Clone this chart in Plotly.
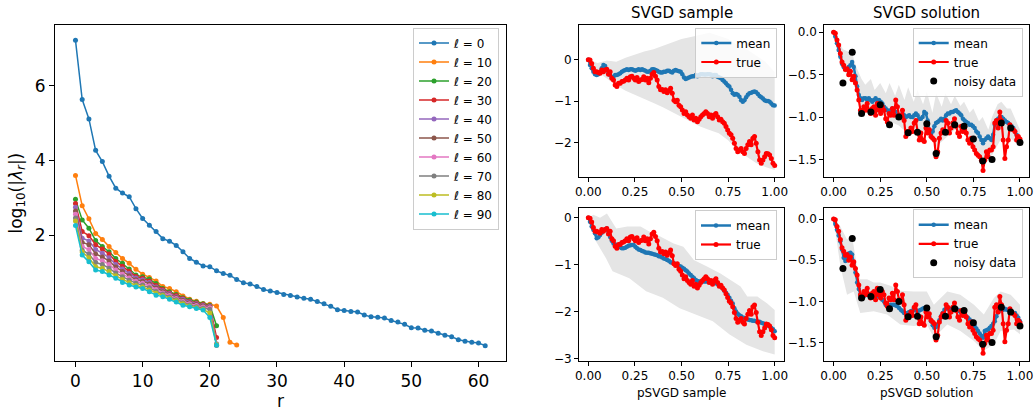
import numpy as np
import plotly.graph_objects as go

# ---------------- left panel data ----------------
r_l0 = list(range(62))
lam_l0 = [7.21, 5.63, 5.11, 4.27, 3.97, 3.58, 3.26, 3.13, 3.03, 2.71,
          2.45, 2.27, 2.10, 1.91, 1.84, 1.73, 1.56, 1.38, 1.28, 1.18,
          1.16, 1.05, 0.98, 0.93, 0.82, 0.73, 0.70, 0.63, 0.55, 0.51,
          0.47, 0.42, 0.39, 0.35, 0.32, 0.29, 0.23, 0.17, 0.10, 0.01,
          -0.01, -0.04, -0.05, -0.13, -0.18, -0.19, -0.21, -0.28, -0.32, -0.38,
          -0.47, -0.48, -0.54, -0.56, -0.62, -0.67, -0.71, -0.79, -0.83, -0.86,
          -0.88, -0.95]
r_l10 = list(range(25))
lam_l10 = [3.60, 2.79, 2.44, 2.05, 1.89, 1.70, 1.54, 1.38, 1.25, 1.09, 0.96, 0.87,
           0.78, 0.63, 0.58, 0.49, 0.38, 0.29, 0.24, 0.18, 0.16, 0.11, -0.20, -0.86, -0.93]
r_short = list(range(22))
lam_l20 = [2.96, 2.41, 2.19, 1.86, 1.70, 1.56, 1.38, 1.25, 1.10, 0.94, 0.89, 0.83,
           0.71, 0.58, 0.49, 0.42, 0.33, 0.27, 0.22, 0.17, 0.13, -0.42]
lam_l30 = [2.85, 2.10, 1.99, 1.75, 1.63, 1.50, 1.30, 1.17, 1.04, 0.90, 0.85, 0.78,
           0.66, 0.55, 0.46, 0.39, 0.31, 0.24, 0.19, 0.15, 0.11, -0.73]
lam_l40 = [2.75, 1.92, 1.85, 1.62, 1.52, 1.40, 1.22, 1.10, 0.98, 0.86, 0.81, 0.74,
           0.62, 0.52, 0.44, 0.36, 0.29, 0.22, 0.17, 0.13, 0.10, -0.90]
lam_l50 = [2.65, 1.81, 1.75, 1.50, 1.42, 1.31, 1.15, 1.03, 0.92, 0.81, 0.77, 0.70,
           0.59, 0.49, 0.41, 0.34, 0.26, 0.20, 0.15, 0.11, 0.08, -0.94]
lam_l60 = [2.56, 1.70, 1.62, 1.38, 1.32, 1.22, 1.07, 0.96, 0.86, 0.77, 0.72, 0.65,
           0.55, 0.46, 0.39, 0.31, 0.23, 0.17, 0.12, 0.08, 0.06, -0.92]
lam_l70 = [2.46, 1.60, 1.50, 1.27, 1.22, 1.12, 0.99, 0.89, 0.80, 0.72, 0.67, 0.60,
           0.50, 0.43, 0.35, 0.28, 0.20, 0.14, 0.09, 0.05, 0.02, -0.93]
lam_l80 = [2.38, 1.55, 1.40, 1.16, 1.12, 1.03, 0.92, 0.82, 0.73, 0.66, 0.62, 0.54,
           0.45, 0.39, 0.32, 0.25, 0.17, 0.11, 0.06, 0.02, -0.08, -0.92]
lam_l90 = [2.26, 1.47, 1.29, 1.07, 1.03, 0.94, 0.85, 0.74, 0.67, 0.62, 0.58, 0.49,
           0.40, 0.36, 0.29, 0.22, 0.13, 0.09, 0.04, 0.00, -0.20, -0.94]

left_series = [
    ("0", r_l0, lam_l0), ("10", r_l10, lam_l10), ("20", r_short, lam_l20),
    ("30", r_short, lam_l30), ("40", r_short, lam_l40), ("50", r_short, lam_l50),
    ("60", r_short, lam_l60), ("70", r_short, lam_l70), ("80", r_short, lam_l80),
    ("90", r_short, lam_l90),
]
tab10 = ["#1f77b4", "#ff7f0e", "#2ca02c", "#d62728", "#9467bd",
         "#8c564b", "#e377c2", "#7f7f7f", "#bcbd22", "#17becf"]

# ---------------- right panels data ----------------
sample_true = [0.0, -0.01, -0.09, -0.21, -0.29, -0.29, -0.31, -0.33, -0.25, -0.29,
               -0.25, -0.23, -0.35, -0.29, -0.45, -0.49, -0.61, -0.65, -0.57, -0.57,
               -0.53, -0.52, -0.49, -0.45, -0.49, -0.41, -0.40, -0.45, -0.49, -0.43,
               -0.53, -0.49, -0.48, -0.41, -0.49, -0.45, -0.56, -0.45, -0.35, -0.31,
               -0.40, -0.49, -0.65, -0.73, -0.72, -0.77, -0.73, -0.80, -0.75, -0.69,
               -0.81, -0.98, -1.02, -0.98, -1.10, -1.14, -1.22, -1.30, -1.26, -1.34,
               -1.38, -1.42, -1.34, -1.46, -1.42, -1.50, -1.44, -1.38, -1.34, -1.30,
               -1.26, -1.30, -1.38, -1.34, -1.42, -1.34, -1.30, -1.38, -1.46, -1.44,
               -1.50, -1.54, -1.62, -1.70, -1.78, -1.82, -1.90, -2.02, -2.15, -2.23,
               -2.19, -2.15, -2.23, -2.27, -2.15, -2.06, -1.98, -2.06, -1.90, -1.86,
               -2.02, -2.23, -2.43, -2.51, -2.43, -2.35, -2.27, -2.28, -2.31, -2.39,
               -2.51, -2.56]
svgd_sample_mean = [0.0, -0.13, -0.21, -0.29, -0.35, -0.37, -0.35, -0.29, -0.21, -0.13,
                    -0.15, -0.25, -0.33, -0.37, -0.43, -0.41, -0.37, -0.37, -0.35, -0.33,
                    -0.29, -0.27, -0.25, -0.23, -0.25, -0.23, -0.23, -0.25, -0.27, -0.25,
                    -0.23, -0.25, -0.23, -0.25, -0.27, -0.29, -0.29, -0.27, -0.23, -0.23,
                    -0.25, -0.27, -0.29, -0.31, -0.31, -0.29, -0.29, -0.27, -0.27, -0.29,
                    -0.31, -0.27, -0.25, -0.27, -0.28, -0.29, -0.35, -0.43, -0.47, -0.45,
                    -0.43, -0.41, -0.40, -0.40, -0.37, -0.40, -0.37, -0.35, -0.35, -0.36,
                    -0.36, -0.35, -0.35, -0.36, -0.40, -0.37, -0.37, -0.41, -0.43, -0.45,
                    -0.49, -0.53, -0.57, -0.62, -0.65, -0.73, -0.81, -0.85, -0.83, -0.85,
                    -0.90, -0.98, -1.02, -0.98, -0.91, -0.85, -0.81, -0.80, -0.78, -0.77,
                    -0.79, -0.83, -0.88, -0.91, -0.94, -0.98, -1.00, -1.00, -1.02, -1.06,
                    -1.10, -1.11]
psvgd_sample_mean = [0.0, -0.085, -0.19, -0.26, -0.33, -0.44, -0.42, -0.37, -0.32, -0.28,
                     -0.25, -0.23, -0.30, -0.41, -0.49, -0.55, -0.57, -0.58, -0.60, -0.63,
                     -0.65, -0.65, -0.64, -0.62, -0.60, -0.59, -0.58, -0.58, -0.62, -0.65,
                     -0.68, -0.69, -0.71, -0.72, -0.74, -0.75, -0.75, -0.76, -0.77, -0.78,
                     -0.79, -0.80, -0.82, -0.83, -0.85, -0.87, -0.88, -0.90, -0.92, -0.95,
                     -0.96, -0.97, -1.00, -1.02, -1.03, -1.04, -1.07, -1.09, -1.12, -1.15,
                     -1.19, -1.22, -1.26, -1.29, -1.33, -1.35, -1.36, -1.36, -1.36, -1.36,
                     -1.36, -1.36, -1.36, -1.37, -1.38, -1.39, -1.40, -1.42, -1.44, -1.47,
                     -1.51, -1.56, -1.60, -1.65, -1.71, -1.77, -1.83, -1.93, -2.00, -2.05,
                     -2.08, -2.10, -2.13, -2.14, -2.15, -2.17, -2.18, -2.19, -2.20, -2.20,
                     -2.21, -2.22, -2.22, -2.24, -2.25, -2.27, -2.28, -2.30, -2.32, -2.35,
                     -2.38, -2.42]
solution_true = [0.0, -0.01, -0.09, -0.15, -0.25, -0.35, -0.39, -0.44, -0.43, -0.50,
                 -0.46, -0.56, -0.52, -0.60, -0.68, -0.80, -0.92, -0.96, -0.88, -0.92,
                 -0.84, -0.92, -0.96, -0.90, -0.88, -0.98, -0.84, -0.92, -0.96, -0.88,
                 -0.92, -1.02, -1.06, -0.96, -0.98, -0.90, -0.98, -0.80, -0.88, -0.98,
                 -1.00, -0.92, -1.04, -1.23, -1.17, -1.19, -1.13, -1.17, -1.07, -1.04,
                 -1.17, -1.27, -1.19, -1.27, -1.29, -1.13, -1.19, -1.15, -1.23, -1.25,
                 -1.27, -1.47, -1.41, -1.25, -1.19, -1.15, -1.17, -1.04, -1.07, -1.19,
                 -1.13, -1.07, -1.02, -1.11, -1.19, -1.23, -1.11, -1.17, -1.15, -1.19,
                 -1.27, -1.31, -1.25, -1.35, -1.39, -1.43, -1.45, -1.47, -1.51, -1.63,
                 -1.51, -1.41, -1.47, -1.39, -1.39, -1.35, -1.07, -1.04, -1.13, -0.94,
                 -1.04, -1.27, -1.49, -1.35, -1.27, -1.09, -1.13, -1.15, -1.17, -1.27,
                 -1.23, -1.26]
svgd_solution_mean = [0.0, -0.05, -0.13, -0.21, -0.29, -0.37, -0.41, -0.43, -0.44, -0.41,
                      -0.39, -0.35, -0.41, -0.52, -0.64, -0.74, -0.78, -0.80, -0.78, -0.78,
                      -0.80, -0.78, -0.80, -0.82, -0.80, -0.78, -0.80, -0.80, -0.82, -0.84,
                      -0.88, -0.90, -0.92, -0.94, -0.92, -0.90, -0.92, -0.94, -0.98, -1.00,
                      -0.98, -0.96, -0.98, -1.00, -0.99, -0.98, -1.00, -1.00, -0.98, -0.96,
                      -0.98, -1.02, -1.02, -1.00, -0.94, -0.96, -1.04, -1.15, -1.21, -1.17,
                      -1.11, -1.07, -1.06, -1.04, -1.02, -1.04, -1.02, -0.98, -0.96, -0.96,
                      -0.94, -0.94, -0.93, -0.92, -0.94, -0.96, -0.98, -1.02, -1.04, -1.06,
                      -1.07, -1.09, -1.09, -1.11, -1.13, -1.17, -1.19, -1.23, -1.27, -1.31,
                      -1.27, -1.25, -1.23, -1.25, -1.27, -1.21, -1.09, -1.04, -1.02, -1.00,
                      -1.00, -1.02, -1.04, -1.06, -1.07, -1.09, -1.11, -1.13, -1.17, -1.21,
                      -1.25, -1.27]
psvgd_solution_mean = [0.0, -0.06, -0.13, -0.20, -0.27, -0.37, -0.47, -0.51, -0.45, -0.42,
                       -0.41, -0.43, -0.53, -0.65, -0.77, -0.85, -0.92, -0.94, -0.94, -0.92,
                       -0.90, -0.91, -0.92, -0.94, -0.96, -0.94, -0.92, -0.94, -0.96, -0.98,
                       -1.00, -1.04, -1.06, -1.05, -1.04, -1.04, -1.04, -1.05, -1.06, -1.08,
                       -1.10, -1.12, -1.14, -1.15, -1.14, -1.13, -1.12, -1.11, -1.10, -1.11,
                       -1.12, -1.11, -1.10, -1.09, -1.08, -1.10, -1.14, -1.19, -1.24, -1.29,
                       -1.32, -1.31, -1.28, -1.23, -1.18, -1.14, -1.10, -1.09, -1.08, -1.09,
                       -1.10, -1.09, -1.08, -1.09, -1.10, -1.12, -1.14, -1.15, -1.16, -1.18,
                       -1.20, -1.22, -1.24, -1.27, -1.30, -1.33, -1.36, -1.39, -1.42, -1.44,
                       -1.36, -1.35, -1.34, -1.32, -1.30, -1.27, -1.24, -1.18, -1.12, -1.11,
                       -1.10, -1.10, -1.09, -1.10, -1.10, -1.11, -1.12, -1.14, -1.14, -1.17,
                       -1.20, -1.24]

noisy_x = [0.05, 0.10, 0.15, 0.20, 0.25, 0.30, 0.35, 0.40, 0.45, 0.50,
           0.55, 0.60, 0.65, 0.70, 0.75, 0.80, 0.85, 0.90, 0.95, 1.00]
noisy_y = [-0.60, -0.236, -0.96, -0.94, -0.855, -1.09, -1.00, -1.185, -1.18, -1.08,
           -1.43, -1.18, -1.09, -1.11, -1.26, -1.52, -1.50, -1.07, -1.13, -1.30]

# credible bands (upper / lower edges)
band1_x = [0.0, 0.05, 0.1, 0.15, 0.2, 0.25, 0.3, 0.35, 0.4, 0.45, 0.5,
           0.55, 0.6, 0.65, 0.7, 0.75, 0.8, 0.85, 0.9, 0.95, 1.0]
band1_hi = [0.0, -0.08, -0.02, -0.05, 0.05, 0.12, 0.20, 0.25, 0.33, 0.42, 0.50,
            0.55, 0.60, 0.65, 0.58, 0.50, 0.35, 0.25, 0.10, -0.05, -0.30]
band1_lo = [0.0, -0.30, -0.45, -0.62, -0.75, -0.85, -0.95, -1.05, -1.15, -1.25, -1.38,
            -1.50, -1.62, -1.70, -1.78, -1.95, -2.20, -2.35, -2.50, -2.60, -2.67]

band2_x = [0.0, 0.05, 0.1, 0.12, 0.15, 0.17, 0.2, 0.22, 0.25, 0.28, 0.3, 0.33, 0.35,
           0.38, 0.4, 0.43, 0.45, 0.48, 0.5, 0.53, 0.55, 0.58, 0.6, 0.63, 0.65, 0.68,
           0.7, 0.73, 0.75, 0.78, 0.8, 0.83, 0.85, 0.88, 0.9, 0.93, 0.95, 0.98, 1.0]
band2_hi = [0.0, -0.20, -0.25, -0.40, -0.55, -0.62, -0.55, -0.68, -0.60, -0.72, -0.60,
            -0.75, -0.62, -0.80, -0.65, -0.82, -0.68, -0.85, -0.70, -0.95, -0.72, -0.88,
            -0.72, -0.85, -0.75, -0.87, -0.82, -0.95, -0.90, -1.05, -1.00, -1.15, -1.00,
            -0.85, -0.82, -0.90, -0.90, -1.05, -1.15]
band2_lo_x = [0.0, 0.05, 0.1, 0.15, 0.2, 0.25, 0.3, 0.35, 0.4, 0.45, 0.5,
              0.55, 0.6, 0.65, 0.7, 0.75, 0.8, 0.85, 0.9, 0.95, 1.0]
band2_lo = [0.0, -0.45, -0.55, -0.92, -0.98, -0.95, -1.05, -1.10, -1.20, -1.20, -1.15,
            -1.35, -1.25, -1.15, -1.15, -1.35, -1.52, -1.45, -1.25, -1.25, -1.35]

band3_hi_x = [0.0, 0.027, 0.063, 0.1, 0.15, 0.21, 0.28, 0.33, 0.386, 0.458, 0.51,
              0.566, 0.637, 0.709, 0.763, 0.817, 0.853, 0.907, 0.96, 1.0]
band3_hi = [0.0, 0.06, 0.0, 0.09, -0.23, -0.19, -0.19, -0.30, -0.40, -0.55, -0.62,
            -0.90, -1.04, -1.19, -1.33, -1.47, -1.68, -1.68, -1.83, -1.97]
band3_lo_x = [0.0, 0.04, 0.094, 0.13, 0.22, 0.31, 0.40, 0.49, 0.578, 0.668, 0.758,
              0.848, 0.937, 1.0]
band3_lo = [0.0, -0.50, -0.86, -1.14, -1.29, -1.57, -1.71, -1.93, -2.07, -2.21, -2.49,
            -2.71, -2.85, -2.92]

band4_hi_x = [0.0, 0.036, 0.072, 0.099, 0.125, 0.143, 0.18, 0.215, 0.25, 0.305, 0.358,
              0.43, 0.5, 0.538, 0.61, 0.68, 0.753, 0.806, 0.86, 0.896, 0.95, 1.0]
band4_hi = [0.0, -0.09, -0.25, -0.21, -0.57, -0.73, -0.73, -0.77, -0.77, -0.81, -0.87,
            -0.88, -0.88, -1.04, -0.88, -0.92, -1.04, -1.16, -0.96, -0.88, -0.92, -1.04]
band4_lo_x = [0.0, 0.036, 0.072, 0.108, 0.143, 0.215, 0.287, 0.358, 0.43, 0.5, 0.538,
              0.61, 0.68, 0.753, 0.806, 0.86, 0.896, 0.968, 1.0]
band4_lo = [0.0, -0.57, -0.92, -0.88, -1.14, -1.12, -1.16, -1.28, -1.30, -1.28, -1.44,
            -1.28, -1.36, -1.48, -1.60, -1.52, -1.36, -1.34, -1.40]

t_grid = np.linspace(0.0, 1.0, len(sample_true))

# ---------------- figure ----------------
W, H = 1034, 412
FONT = "DejaVu Sans"
fig = go.Figure()

for i, (lab, rr, vals) in enumerate(left_series):
    fig.add_trace(go.Scatter(
        x=rr, y=vals, mode="lines+markers", name="<i>ℓ</i> = " + lab,
        line=dict(color=tab10[i], width=1.5), marker=dict(color=tab10[i], size=5),
        xaxis="x", yaxis="y", legend="legend"))

GREY = "rgb(229,229,229)"
BLUE = "#1f77b4"
RED = "#ff0000"


def band(hx, hi, lx, lo, ax):
    fig.add_trace(go.Scatter(
        x=list(hx) + list(lx)[::-1], y=list(hi) + list(lo)[::-1], mode="lines",
        fill="toself", fillcolor=GREY, line=dict(width=0, color=GREY),
        showlegend=False, hoverinfo="skip", xaxis="x" + ax, yaxis="y" + ax))


def curves(mean, true, ax, leg, noisy=False):
    fig.add_trace(go.Scatter(
        x=t_grid, y=mean, mode="lines+markers", name="mean",
        line=dict(color=BLUE, width=2.5), marker=dict(color=BLUE, size=4.5),
        xaxis="x" + ax, yaxis="y" + ax, legend=leg))
    fig.add_trace(go.Scatter(
        x=t_grid, y=true, mode="lines+markers", name="true",
        line=dict(color=RED, width=2.2), marker=dict(color=RED, size=5),
        xaxis="x" + ax, yaxis="y" + ax, legend=leg))
    if noisy:
        fig.add_trace(go.Scatter(
            x=noisy_x, y=noisy_y, mode="markers", name="noisy data",
            marker=dict(color="black", size=7),
            xaxis="x" + ax, yaxis="y" + ax, legend=leg))


band(band1_x, band1_hi, band1_x, band1_lo, "2")
curves(svgd_sample_mean, sample_true, "2", "legend2")
band(band2_x, band2_hi, band2_lo_x, band2_lo, "3")
curves(svgd_solution_mean, solution_true, "3", "legend3", noisy=True)
band(band3_hi_x, band3_hi, band3_lo_x, band3_lo, "4")
curves(psvgd_sample_mean, sample_true, "4", "legend4")
band(band4_hi_x, band4_hi, band4_lo_x, band4_lo, "5")
curves(psvgd_solution_mean, solution_true, "5", "legend5", noisy=True)


def px_x(a, b):
    return [a / W, b / W]


def px_y(top, bot):
    return [1 - bot / H, 1 - top / H]


def axstyle(dom, rng, size, tlen, **kw):
    d = dict(domain=dom, range=rng, showline=True, mirror=True, linecolor="black",
             linewidth=1, ticks="outside", ticklen=tlen, tickwidth=1, tickcolor="black",
             showgrid=False, zeroline=False, automargin=False,
             tickfont=dict(family=FONT, size=size, color="black"))
    d.update(kw)
    return d


xr = [-0.05, 1.05]
xt = dict(tickvals=[0, 0.25, 0.5, 0.75, 1.0], tickformat=".2f")
fig.update_layout(
    width=W, height=H, margin=dict(l=0, r=0, t=0, b=0, autoexpand=False), autosize=False,
    paper_bgcolor="white", plot_bgcolor="white",
    font=dict(family=FONT, color="black"),
    xaxis=axstyle(px_x(55, 505.7), [-3.05, 64.05], 17, 5, tickvals=[0, 10, 20, 30, 40, 50, 60], anchor="y"),
    yaxis=axstyle(px_y(25, 361), [-1.36, 7.62], 17, 5, tickvals=[0, 2, 4, 6], anchor="x"),
    xaxis2=axstyle(px_x(579, 784), xr, 12, 4, anchor="y2", **xt),
    yaxis2=axstyle(px_y(25, 177), [-2.84, 0.84], 12, 4, tickvals=[0, -1, -2], anchor="x2"),
    xaxis3=axstyle(px_x(824.3, 1029.3), xr, 12, 4, anchor="y3", **xt),
    yaxis3=axstyle(px_y(25, 177), [-1.708, 0.086], 12, 4, tickvals=[0, -0.5, -1.0, -1.5],
                   tickformat=".1f", anchor="x3"),
    xaxis4=axstyle(px_x(579, 784), xr, 12, 4, anchor="y4", **xt),
    yaxis4=axstyle(px_y(208.3, 360.7), [-3.05, 0.2], 12, 4, tickvals=[0, -1, -2, -3], anchor="x4"),
    xaxis5=axstyle(px_x(824.3, 1029.3), xr, 12, 4, anchor="y5", **xt),
    yaxis5=axstyle(px_y(208.3, 360.7), [-1.72, 0.13], 12, 4, tickvals=[0, -0.5, -1.0, -1.5],
                   tickformat=".1f", anchor="x5"),
)

legstyle = dict(bgcolor="rgba(255,255,255,0.8)", bordercolor="#cccccc", borderwidth=1,
                xanchor="right", yanchor="top", xref="paper", yref="paper")
fig.update_layout(
    legend=dict(x=499 / W, y=1 - 27.5 / H, font=dict(family=FONT, size=12, color="black"), **legstyle),
    legend2=dict(x=777.3 / W, y=1 - 27.5 / H, font=dict(family=FONT, size=12, color="black"), **legstyle),
    legend3=dict(x=1022.7 / W, y=1 - 27.5 / H, font=dict(family=FONT, size=12, color="black"), **legstyle),
    legend4=dict(x=777 / W, y=1 - 210 / H, font=dict(family=FONT, size=12, color="black"), **legstyle),
    legend5=dict(x=1022.7 / W, y=1 - 209.3 / H, font=dict(family=FONT, size=12, color="black"), **legstyle),
)

ann = [
    dict(text="SVGD sample", x=681.5 / W, y=1 - 13 / H, size=15, angle=0),
    dict(text="SVGD solution", x=926.8 / W, y=1 - 13 / H, size=15, angle=0),
    dict(text="pSVGD sample", x=681.5 / W, y=1 - 393 / H, size=12, angle=0),
    dict(text="pSVGD solution", x=926.8 / W, y=1 - 393 / H, size=12, angle=0),
    dict(text="r", x=280.3 / W, y=1 - 401 / H, size=17, angle=0),
    dict(text="log<sub>10</sub>(|<i>λ<sub>r</sub></i>|)", x=16.5 / W, y=1 - 193 / H, size=17, angle=-90),
]
for a in ann:
    fig.add_annotation(text=a["text"], x=a["x"], y=a["y"], xref="paper", yref="paper",
                       showarrow=False, xanchor="center", yanchor="middle", textangle=a["angle"],
                       font=dict(family=FONT, size=a["size"], color="black"))

fig.write_html("out.html", config={"displayModeBar": False},
               post_script="document.body.style.margin='0px';document.body.style.overflow='hidden';")
